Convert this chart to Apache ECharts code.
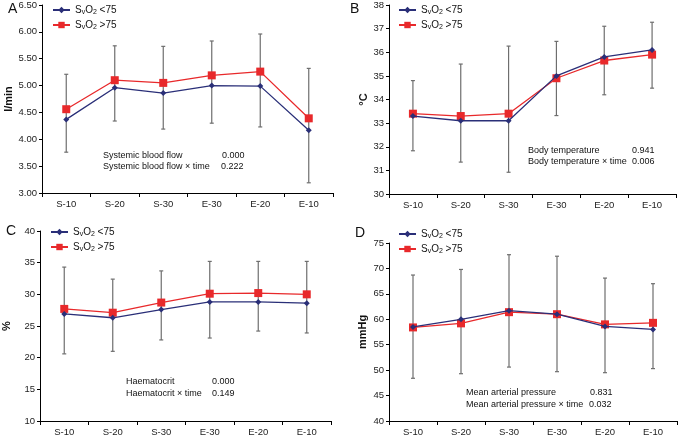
<!DOCTYPE html>
<html>
<head>
<meta charset="utf-8">
<script src="https://cdn.jsdelivr.net/npm/echarts@6/dist/echarts.min.js"></script>
<style>
  html, body { margin: 0; padding: 0; background: #fff; }
  #chart { width: 683px; height: 437px; }
</style>
</head>
<body>
<div id="chart"></div>
<script>
// time points
const categories = ['S-10', 'S-20', 'S-30', 'E-30', 'E-20', 'E-10']

// A: systemic blood flow (l/min)
const flowLow = [4.37, 4.96, 4.86, 5.0, 4.99, 4.17]
const flowHigh = [4.56, 5.1, 5.05, 5.19, 5.26, 4.39]
const flowErrLo = [3.76, 4.34, 4.19, 4.3, 4.23, 3.19]
const flowErrHi = [5.21, 5.74, 5.73, 5.83, 5.96, 5.32]

// B: body temperature (°C)
const tempLow = [33.3, 33.1, 33.1, 35.0, 35.8, 36.1]
const tempHigh = [33.4, 33.3, 33.4, 34.9, 35.65, 35.9]
const tempErrLo = [31.83, 31.35, 30.92, 33.32, 34.2, 34.48]
const tempErrHi = [34.8, 35.5, 36.26, 36.46, 37.1, 37.27]

// C: haematocrit (%)
const hctLow = [26.9, 26.3, 27.6, 28.8, 28.8, 28.6]
const hctHigh = [27.7, 27.1, 28.7, 30.1, 30.2, 30.0]
const hctErrLo = [20.6, 21.0, 22.8, 23.1, 24.2, 23.9]
const hctErrHi = [34.3, 32.4, 33.7, 35.2, 35.2, 35.2]

// D: mean arterial pressure (mmHg)
const mapLow = [58.5, 60.0, 61.7, 61.0, 58.6, 58.0]
const mapHigh = [58.4, 59.2, 61.4, 61.0, 59.0, 59.3]
const mapErrLo = [48.4, 49.3, 50.6, 49.7, 49.5, 50.3]
const mapErrHi = [68.7, 69.8, 72.7, 72.4, 68.1, 67.0]

const nameLow = 'SvO2 <75'
const nameHigh = 'SvO2 >75'
const blue = '#2a2f78'
const red = '#e8292b'
const font = 'Liberation Sans, Arial, sans-serif'

const panels = [
  { grid: { left: 42, top: 5, right: 350, bottom: 244 }, min: 3, max: 6.5, interval: 0.5, dec: 2,
    unit: 'l/min', gap: 25, low: flowLow, high: flowHigh, lo: flowErrLo, hi: flowErrHi, legend: [52, 5] },
  { grid: { left: 389, top: 4, right: 7, bottom: 243 }, min: 30, max: 38, interval: 1, dec: 0,
    unit: '°C', gap: 17, low: tempLow, high: tempHigh, lo: tempErrLo, hi: tempErrHi, legend: [398, 5] },
  { grid: { left: 39, top: 231, right: 352, bottom: 12 }, min: 10, max: 40, interval: 5, dec: 0,
    unit: '%', gap: 28, low: hctLow, high: hctHigh, lo: hctErrLo, hi: hctErrHi, legend: [50, 227] },
  { grid: { left: 389, top: 243, right: 6, bottom: 12 }, min: 40, max: 75, interval: 5, dec: 0,
    unit: 'mmHg', gap: 21, low: mapLow, high: mapHigh, lo: mapErrLo, hi: mapErrHi, legend: [398, 229] }
]

const grids = []
const xAxes = []
const yAxes = []
const series = []
const legends = []

panels.forEach((p, i) => {
  grids.push(p.grid)
  xAxes.push({
    type: 'category',
    gridIndex: i,
    data: categories,
    boundaryGap: true,
    axisLine: { lineStyle: { color: '#000', width: 1 } },
    axisTick: { show: true, alignWithLabel: false, length: 4, lineStyle: { color: '#000' } },
    axisLabel: { color: '#222', fontSize: 9.5, fontFamily: font, margin: 6 },
    splitLine: { show: false }
  })
  yAxes.push({
    type: 'value',
    gridIndex: i,
    min: p.min,
    max: p.max,
    interval: p.interval,
    name: p.unit,
    nameLocation: 'middle',
    nameGap: p.gap,
    nameRotate: 90,
    nameTextStyle: { color: '#111', fontSize: 11, fontWeight: 'bold', fontFamily: font },
    axisLine: { show: true, lineStyle: { color: '#000', width: 1 } },
    axisTick: { show: true, length: 3, lineStyle: { color: '#000' } },
    axisLabel: { color: '#222', fontSize: 9.5, fontFamily: font, margin: 5,
      formatter: v => v.toFixed(p.dec) },
    splitLine: { show: false }
  })
  // error bars
  series.push({
    type: 'custom',
    xAxisIndex: i,
    yAxisIndex: i,
    z: 1,
    silent: true,
    data: categories.map((c, k) => [k, p.lo[k], p.hi[k]]),
    renderItem: (params, api) => {
      const top = api.coord([api.value(0), api.value(2)])
      const bot = api.coord([api.value(0), api.value(1)])
      const w = 2
      const style = { stroke: '#6e6e6e', lineWidth: 1.2 }
      return {
        type: 'group',
        children: [
          { type: 'line', shape: { x1: top[0], y1: top[1], x2: bot[0], y2: bot[1] }, style },
          { type: 'line', shape: { x1: top[0] - w, y1: top[1], x2: top[0] + w, y2: top[1] }, style },
          { type: 'line', shape: { x1: bot[0] - w, y1: bot[1], x2: bot[0] + w, y2: bot[1] }, style }
        ]
      }
    }
  })
  series.push({
    name: nameHigh,
    type: 'line',
    xAxisIndex: i,
    yAxisIndex: i,
    z: 3,
    data: p.high,
    symbol: 'rect',
    symbolSize: 8,
    lineStyle: { color: red, width: 1.3 },
    itemStyle: { color: red }
  })
  series.push({
    name: nameLow,
    type: 'line',
    xAxisIndex: i,
    yAxisIndex: i,
    z: 4,
    data: p.low,
    symbol: 'diamond',
    symbolSize: 6,
    lineStyle: { color: blue, width: 1.3 },
    itemStyle: { color: blue }
  })
  legends.push({
    left: p.legend[0],
    top: p.legend[1],
    padding: 0,
    orient: 'vertical',
    itemWidth: 17,
    itemHeight: 8,
    itemGap: 4,
    selectedMode: false,
    data: [nameLow, nameHigh],
    formatter: n => n === nameLow
      ? '{t|S}{s|v}{t|O}{s|2}{t| <75}'
      : '{t|S}{s|v}{t|O}{s|2}{t| >75}',
    textStyle: {
      color: '#111',
      rich: {
        t: { fontSize: 10, fontFamily: font, color: '#111' },
        s: { fontSize: 7, fontFamily: font, color: '#111', padding: [5, 0, 0, 0] }
      }
    }
  })
})

const txt = (x, y, text, extra) => ({
  type: 'text', left: x, top: y,
  style: Object.assign({ text, fill: '#111', font: '9px ' + font }, extra || {})
})

const annotations = [
  txt(8, 2, 'A', { font: '14px ' + font }),
  txt(350, 2, 'B', { font: '14px ' + font }),
  txt(6, 224, 'C', { font: '14px ' + font }),
  txt(355, 226, 'D', { font: '14px ' + font }),
  txt(103, 151, 'Systemic blood flow'),
  txt(103, 162, 'Systemic blood flow × time'),
  txt(222, 151, '0.000'),
  txt(221, 162, '0.222'),
  txt(528, 146, 'Body temperature'),
  txt(528, 157, 'Body temperature × time'),
  txt(632, 146, '0.941'),
  txt(632, 157, '0.006'),
  txt(126, 377, 'Haematocrit'),
  txt(126, 389, 'Haematocrit × time'),
  txt(212, 377, '0.000'),
  txt(212, 389, '0.149'),
  txt(466, 388, 'Mean arterial pressure'),
  txt(466, 400, 'Mean arterial pressure × time'),
  txt(590, 388, '0.831'),
  txt(589, 400, '0.032')
]

const myChart = echarts.init(document.getElementById('chart'), null, { renderer: 'canvas' })
myChart.setOption({
  animation: false,
  backgroundColor: '#fff',
  grid: grids,
  xAxis: xAxes,
  yAxis: yAxes,
  legend: legends,
  series: series,
  graphic: annotations
})
</script>
</body>
</html>
